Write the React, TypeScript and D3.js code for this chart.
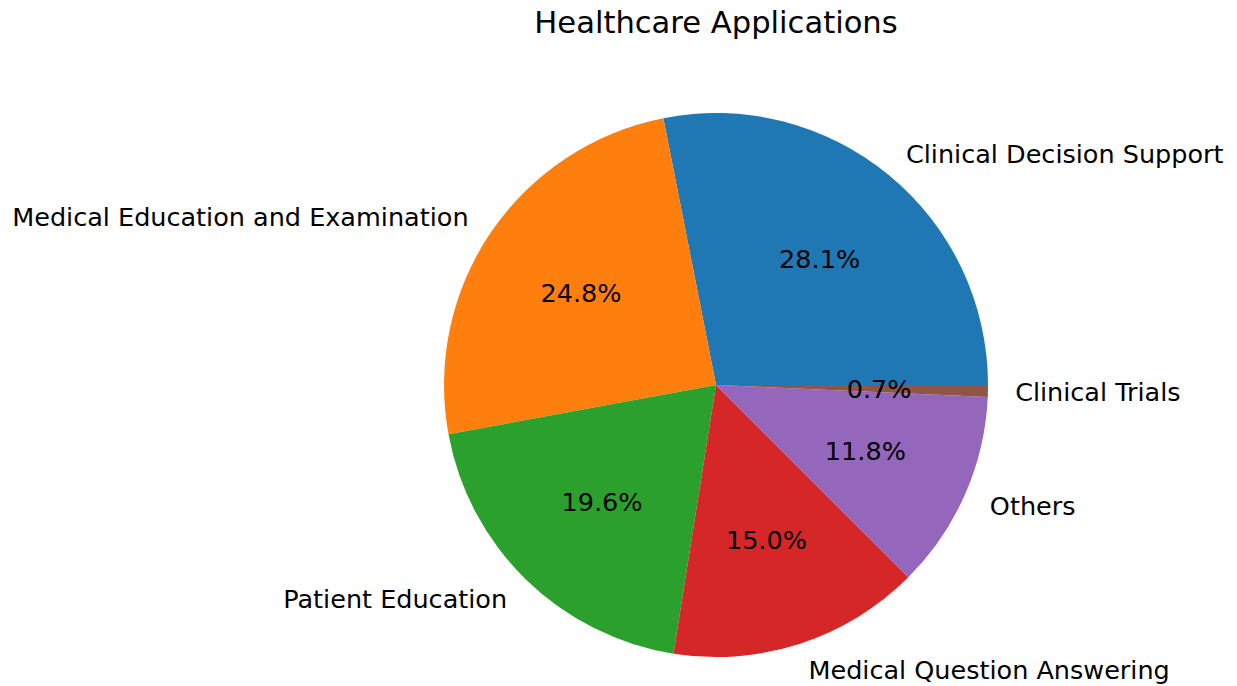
import React from "react";
import * as d3 from "d3";

const categories = [
  "Clinical Decision Support",
  "Medical Education and Examination",
  "Patient Education",
  "Medical Question Answering",
  "Others",
  "Clinical Trials",
];
const values = [28.1, 24.8, 19.6, 15.0, 11.8, 0.7];
const colors = ["#1f77b4", "#ff7f0e", "#2ca02c", "#d62728", "#9467bd", "#8c564b"];
const title = "Healthcare Applications";

const W = 1237;
const H = 686;
const cx = 716;
const cy = 385;
const R = 272;

export default function App() {
  const pie = d3
    .pie<number>()
    .sort(null)
    .value((d) => d)
    .startAngle(Math.PI / 2)
    .endAngle(Math.PI / 2 - 2 * Math.PI);
  const arcs = pie(values);
  const arc = d3.arc<d3.PieArcDatum<number>>().innerRadius(0).outerRadius(R);
  const labelArc = d3.arc<d3.PieArcDatum<number>>().innerRadius(R * 1.1).outerRadius(R * 1.1);
  const pctArc = d3.arc<d3.PieArcDatum<number>>().innerRadius(R * 0.6).outerRadius(R * 0.6);
  const total = d3.sum(values);
  const font = "DejaVu Sans, sans-serif";
  return (
    <svg
      width={W}
      height={H}
      style={{ position: "absolute", left: 0, top: 0, background: "#fff" }}
      fontFamily={font}
    >
      <text x={cx} y={22} textAnchor="middle" dominantBaseline="central" fontSize={30.6} fill="#000">
        {title}
      </text>
      <g transform={`translate(${cx},${cy})`}>
        {arcs.map((a, i) => (
          <path key={i} d={arc(a) || ""} fill={colors[i]} />
        ))}
        {arcs.map((a, i) => {
          const [x, y] = labelArc.centroid(a);
          return (
            <text
              key={"l" + i}
              x={x}
              y={y}
              textAnchor={x > 0 ? "start" : "end"}
              dominantBaseline="central"
              fontSize={25.5}
              fill="#000"
            >
              {categories[i]}
            </text>
          );
        })}
        {arcs.map((a, i) => {
          const [x, y] = pctArc.centroid(a);
          return (
            <text
              key={"p" + i}
              x={x}
              y={y}
              textAnchor="middle"
              dominantBaseline="central"
              fontSize={25.5}
              fill="#000"
            >
              {((a.data / total) * 100).toFixed(1) + "%"}
            </text>
          );
        })}
      </g>
    </svg>
  );
}
